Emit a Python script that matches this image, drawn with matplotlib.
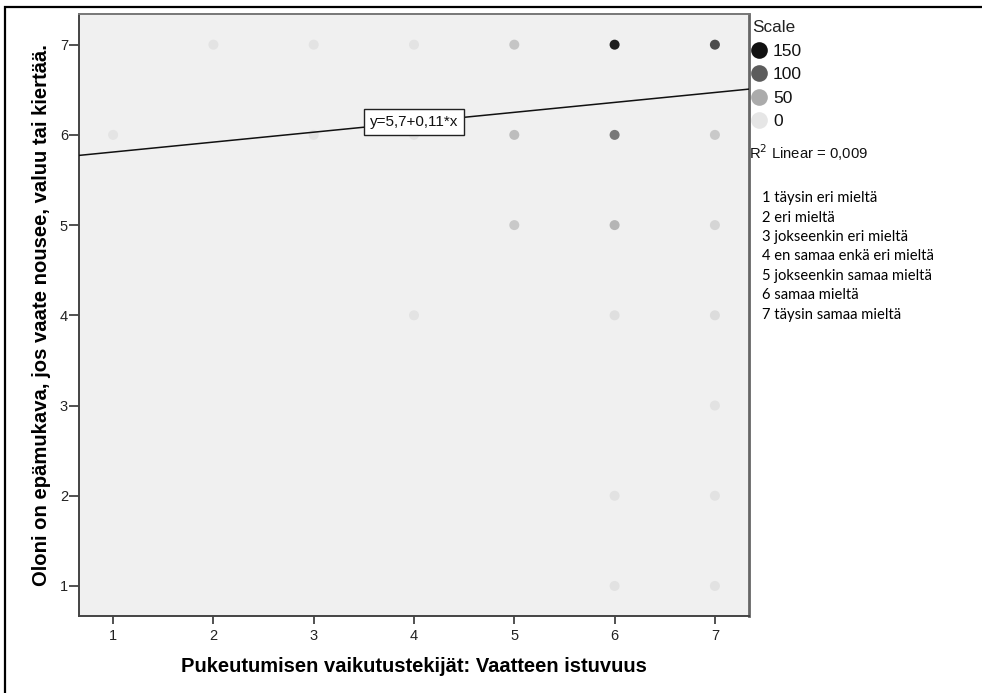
import matplotlib
matplotlib.use("Agg")
import matplotlib.pyplot as plt
from matplotlib.colors import LinearSegmentedColormap
from matplotlib.lines import Line2D
from matplotlib.patches import Rectangle
import numpy as np

# ---- data ----
x_vals = [1, 2, 3, 3, 4, 4, 4, 5, 5, 5, 6, 6, 6, 6, 6, 6, 7, 7, 7, 7, 7, 7, 7]
y_vals = [6, 7, 7, 6, 7, 6, 4, 7, 6, 5, 7, 6, 5, 4, 2, 1, 7, 6, 5, 4, 3, 2, 1]
counts = [2, 3, 3, 3, 3, 3, 3, 28, 35, 25, 140, 82, 42, 6, 4, 4, 110, 25, 15, 9, 4, 4, 4]
scale_levels = [150, 100, 50, 0]
intercept = 5.7
slope = 0.11
r2_text = "R$^2$ Linear = 0,009"
eq_text = "y=5,7+0,11*x"
xticks = [1, 2, 3, 4, 5, 6, 7]
yticks = [1, 2, 3, 4, 5, 6, 7]
xlabel = "Pukeutumisen vaikutustekijät: Vaatteen istuvuus"
ylabel = "Oloni on epämukava, jos vaate nousee, valuu tai kiertää."
category_labels = ["1 täysin eri mieltä", "2 eri mieltä", "3 jokseenkin eri mieltä",
                   "4 en samaa enkä eri mieltä", "5 jokseenkin samaa mieltä",
                   "6 samaa mieltä", "7 täysin samaa mieltä"]

W, H = 982, 693
fig = plt.figure(figsize=(W / 100, H / 100), dpi=100)
fig.patch.set_facecolor("white")

# outer frame
fig.add_artist(Rectangle((5 / W, -0.1), 1.2, (1 - 7 / H) + 0.1, transform=fig.transFigure,
                         fill=False, edgecolor="black", linewidth=1.6))

ax = fig.add_axes([79 / W, 1 - 616 / H, (749 - 79) / W, (616 - 14) / H])
ax.set_facecolor("#f0f0f0")

cmap = LinearSegmentedColormap.from_list(
    "spss", [(0.0, "#e6e6e6"), (1 / 3, "#ababab"), (2 / 3, "#5c5c5c"), (1.0, "#111111")])

ax.scatter(x_vals, y_vals, c=counts, cmap=cmap, vmin=0, vmax=150, s=52,
           linewidths=0, zorder=2)

xlim = (0.66, 7.34)
ylim = (0.667, 7.34)
ax.set_xlim(*xlim)
ax.set_ylim(*ylim)

xl = np.array(xlim)
ax.plot(xl, intercept + slope * xl, color="#111111", lw=1.1, zorder=3)
ax.text(4.0, 6.146, eq_text, fontsize=11, family="Liberation Sans", ha="center", va="center",
        zorder=4, color="#111111",
        bbox=dict(boxstyle="square,pad=0.38", fc="white", ec="#222222", lw=1.0))

narrow = ["Liberation Sans Narrow", "Liberation Sans"]
ax.set_xticks(xticks)
ax.set_yticks(yticks)
ax.tick_params(axis="both", direction="out", width=1.2, color="#333333",
               labelsize=10.5, labelcolor="#222222")
ax.tick_params(axis="y", length=7, pad=1)
ax.tick_params(axis="x", length=6, pad=3)
for lab in ax.get_xticklabels() + ax.get_yticklabels():
    lab.set_family(narrow)
for s in ax.spines.values():
    s.set_color("#444444")
    s.set_linewidth(1.4)
ax.spines["top"].set_color("#777777")
ax.spines["right"].set_color("#666666")
ax.spines["right"].set_linewidth(2)

ax.set_xlabel(xlabel, fontsize=14.5, fontweight="bold", family="Liberation Sans")
ax.xaxis.set_label_coords(0.5, -51 / 602, transform=ax.transAxes)
ax.xaxis.label.set_va("center")
ax.set_ylabel(ylabel, fontsize=14.6, fontweight="bold", family="Liberation Sans", labelpad=6)

# size/colour legend
handles = [Line2D([], [], marker="o", linestyle="none", markersize=12,
                  markerfacecolor=cmap(v / 150), markeredgewidth=0) for v in scale_levels]
leg = ax.legend(handles, [str(v) for v in scale_levels], title="Scale", loc="upper left",
                bbox_to_anchor=(1.0, 0.995), frameon=False,
                handlelength=0.75, handletextpad=0.43, labelspacing=0.48, borderpad=0.2,
                borderaxespad=0.0, prop={"family": "Liberation Sans", "size": 12.5},
                title_fontproperties={"family": "Liberation Sans", "size": 12.3})
leg._legend_box.align = "left"
leg.get_title().set_color("#222222")
for t in leg.get_texts():
    t.set_color("#111111")

fig.text(749 / W, 1 - 153 / H, r2_text, fontsize=10.7, family="Liberation Sans",
         ha="left", va="center", color="#111111")

for i, t in enumerate(category_labels):
    fig.text(762 / W, 1 - (198 + i * 19.5) / H, t, fontsize=10.6, family="Lato",
             ha="left", va="center", color="black")

fig.savefig("out.png", dpi=100)
